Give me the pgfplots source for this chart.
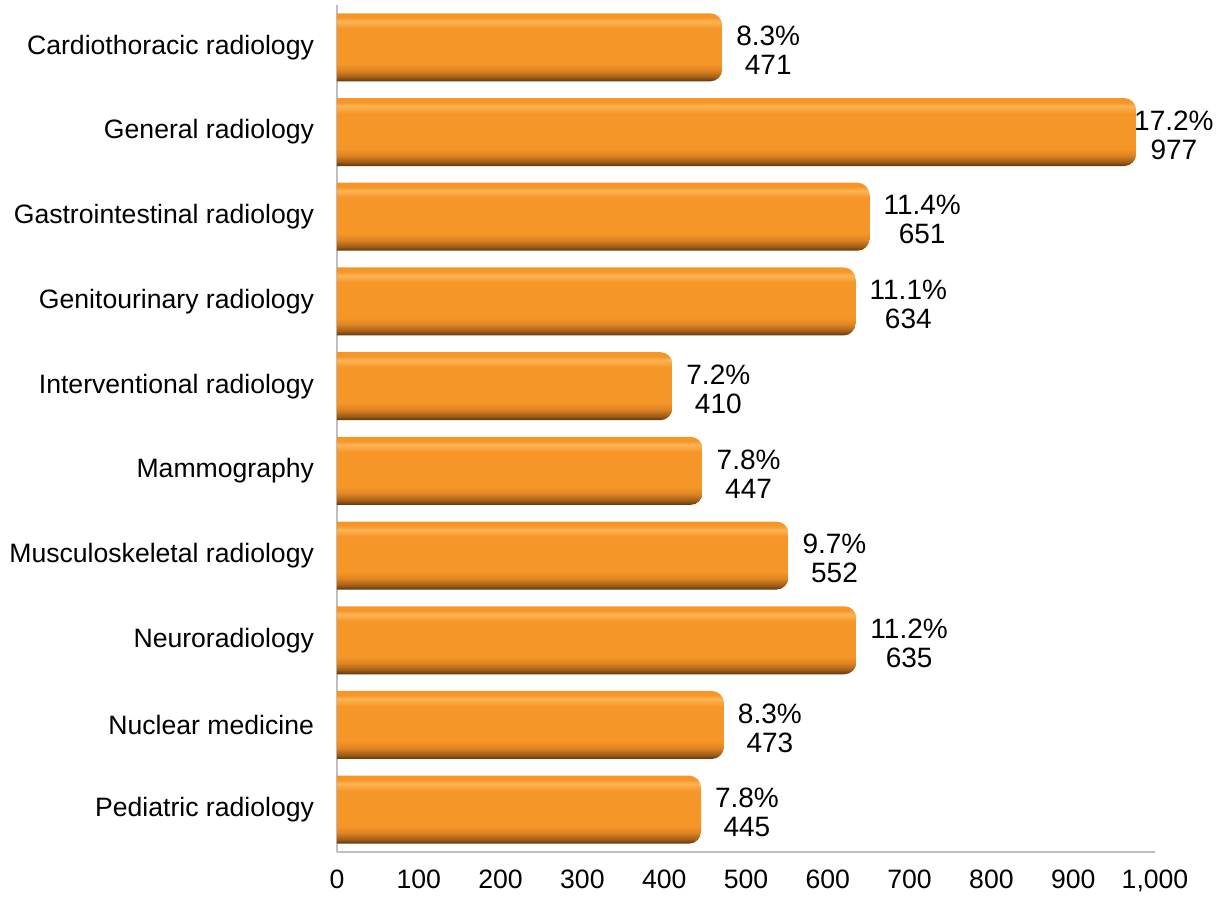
\documentclass[border=0pt]{standalone}
\usepackage{pgfplots}
\pgfplotsset{compat=1.18}
\usepackage{fontspec}
\setmainfont{Liberation Sans}
\definecolor{borange}{RGB}{247,150,40}
\definecolor{blight}{RGB}{252,180,85}
\definecolor{bmid}{RGB}{160,92,22}
\definecolor{bmid2}{RGB}{222,132,35}
\definecolor{bdark}{RGB}{90,52,12}
\definecolor{axgray}{RGB}{191,191,191}
\pgfdeclareverticalshading{barshade}{100bp}{color(0bp)=(bdark); color(25bp)=(bdark); color(28bp)=(bmid); color(33bp)=(bmid2); color(38bp)=(borange); color(64bp)=(borange); color(69bp)=(blight); color(72bp)=(borange); color(75bp)=(borange); color(100bp)=(borange)}
\pgfplotstableread{
x y lab
471 0 {8.3\%\\471}
977 1 {17.2\%\\977}
651 2 {11.4\%\\651}
634 3 {11.1\%\\634}
410 4 {7.2\%\\410}
447 5 {7.8\%\\447}
552 6 {9.7\%\\552}
635 7 {11.2\%\\635}
473 8 {8.3\%\\473}
445 9 {7.8\%\\445}
}\datatable
\begin{document}
\begin{tikzpicture}[font=\fontsize{13.3bp}{14.5bp}\selectfont]
\useasboundingbox (-168.5bp,-23.5bp) rectangle (447bp,426bp);
\begin{axis}[
  scale only axis,
  width=409bp, height=423.5bp,
  xbar, bar width=34bp, bar shift=0pt,
  xmin=0, xmax=1000,
  ymin=-0.5, ymax=9.5,
  y dir=reverse,
  xtick={0,100,...,1000},
  ytick={0,...,9},
  yticklabels={Cardiothoracic radiology, General radiology, Gastrointestinal radiology, Genitourinary radiology, Interventional radiology, Mammography, Musculoskeletal radiology, Neuroradiology, Nuclear medicine, Pediatric radiology},
  /pgf/number format/assume math mode=true,
  /pgf/number format/1000 sep={,},
  major tick length=0pt,
  axis x line*=bottom, axis y line*=left,
  axis line style={draw=axgray, line width=1bp, -},
  xticklabel style={yshift=-5.5bp},
  yticklabel style={xshift=-8bp},
  clip=false,
  barsty/.style={draw=none, fill=none, forget plot,
    path picture={\shade[path picture={}, shading=barshade, rounded corners=6bp]
     ([xshift=-20bp]path picture bounding box.south west) rectangle (path picture bounding box.north east);}},
]
\addplot[barsty] coordinates {(471,0)};
\addplot[barsty] coordinates {(977,1)};
\addplot[barsty] coordinates {(651,2)};
\addplot[barsty] coordinates {(634,3)};
\addplot[barsty] coordinates {(410,4)};
\addplot[barsty] coordinates {(447,5)};
\addplot[barsty] coordinates {(552,6)};
\addplot[barsty] coordinates {(635,7)};
\addplot[barsty] coordinates {(473,8)};
\addplot[barsty] coordinates {(445,9)};
\addplot[draw=none, fill=none, forget plot,
  point meta=explicit symbolic,
  visualization depends on={rawx \as \rawx},
  nodes near coords,
  every node near coord/.append style={anchor=west, align=center, xshift={(\rawx>900 ? -4.5 : 3.5)*1bp}, yshift=-1.5bp, font=\fontsize{14bp}{14.5bp}\selectfont}]
  table[x=x, y=y, meta=lab] {\datatable};
\end{axis}
\end{tikzpicture}
\end{document}
